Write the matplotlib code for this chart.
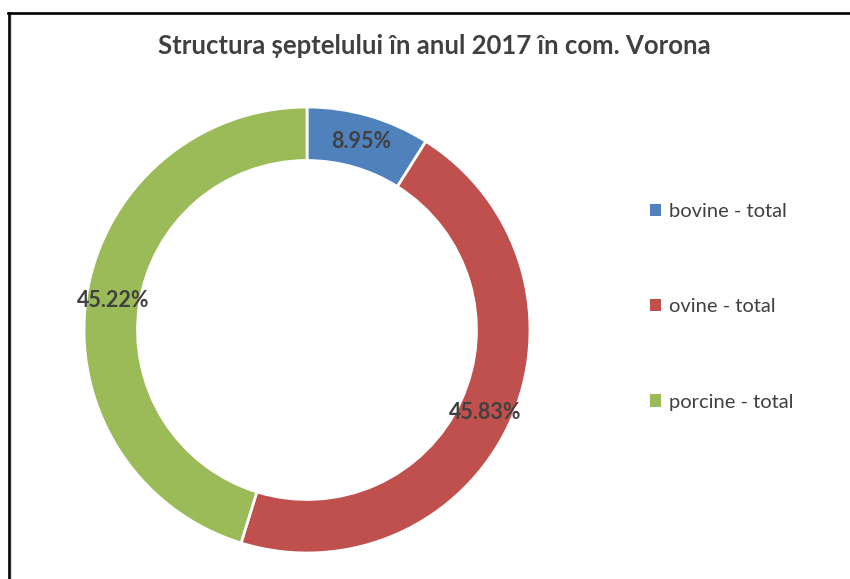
import matplotlib
matplotlib.use('Agg')
import matplotlib.pyplot as plt
from matplotlib.lines import Line2D

# Structura septelului - com. Vorona, 2017
categories = ['bovine - total', 'ovine - total', 'porcine - total']
shares = [8.95, 45.83, 45.22]
colors = ['#4F81BD', '#C0504D', '#9BBB59']
title = 'Structura șeptelului în anul 2017 în com. Vorona'

W, H = 850, 579
plt.rcParams['font.family'] = ['Lato', 'DejaVu Sans']

fig = plt.figure(figsize=(W / 100, H / 100), dpi=100)
fig.patch.set_facecolor('white')

# donut axes: center (307, 330) px, outer radius 223 px
r = 223
cx, cy = 307, 330
ax = fig.add_axes([(cx - r) / W, (H - cy - r) / H, 2 * r / W, 2 * r / H])
wedges, _, autotexts = ax.pie(
    shares, colors=colors, startangle=90, counterclock=False, radius=1,
    autopct='%.2f%%', pctdistance=0.88,
    wedgeprops=dict(width=0.24, edgecolor='white', linewidth=2),
    textprops=dict(fontsize=15.5, fontweight='bold', color='#404040'))
ax.set_xlim(-1, 1)
ax.set_ylim(-1, 1)
ax.set_aspect('equal')
ax.axis('off')

fig.text(434 / W, 1 - 46 / H, title, ha='center', va='center',
         fontsize=18.5, fontweight='bold', color='#404040')

handles = [plt.Rectangle((0, 0), 1, 1, facecolor=c) for c in colors]
leg = fig.legend(handles, categories, loc='center left',
                 bbox_to_anchor=(632 / W, 1 - 307 / H), frameon=False,
                 fontsize=14.5, handlelength=0.55, handleheight=0.55,
                 handletextpad=0.4, labelspacing=3.88)
for t in leg.get_texts():
    t.set_color('#404040')

# chart border (top and left edges visible in the crop)
fig.add_artist(Line2D([8 / W, 1], [1 - 13 / H, 1 - 13 / H], color='black', lw=1.9,
                      transform=fig.transFigure))
fig.add_artist(Line2D([8.5 / W, 8.5 / W], [0, 1 - 13 / H], color='black', lw=1.9,
                      transform=fig.transFigure))
fig.add_artist(Line2D([10.8 / W, 10.8 / W], [0, 1 - 15 / H], color='#d9d9d9', lw=0.8,
                      transform=fig.transFigure))

fig.savefig('out.png', dpi=100)
